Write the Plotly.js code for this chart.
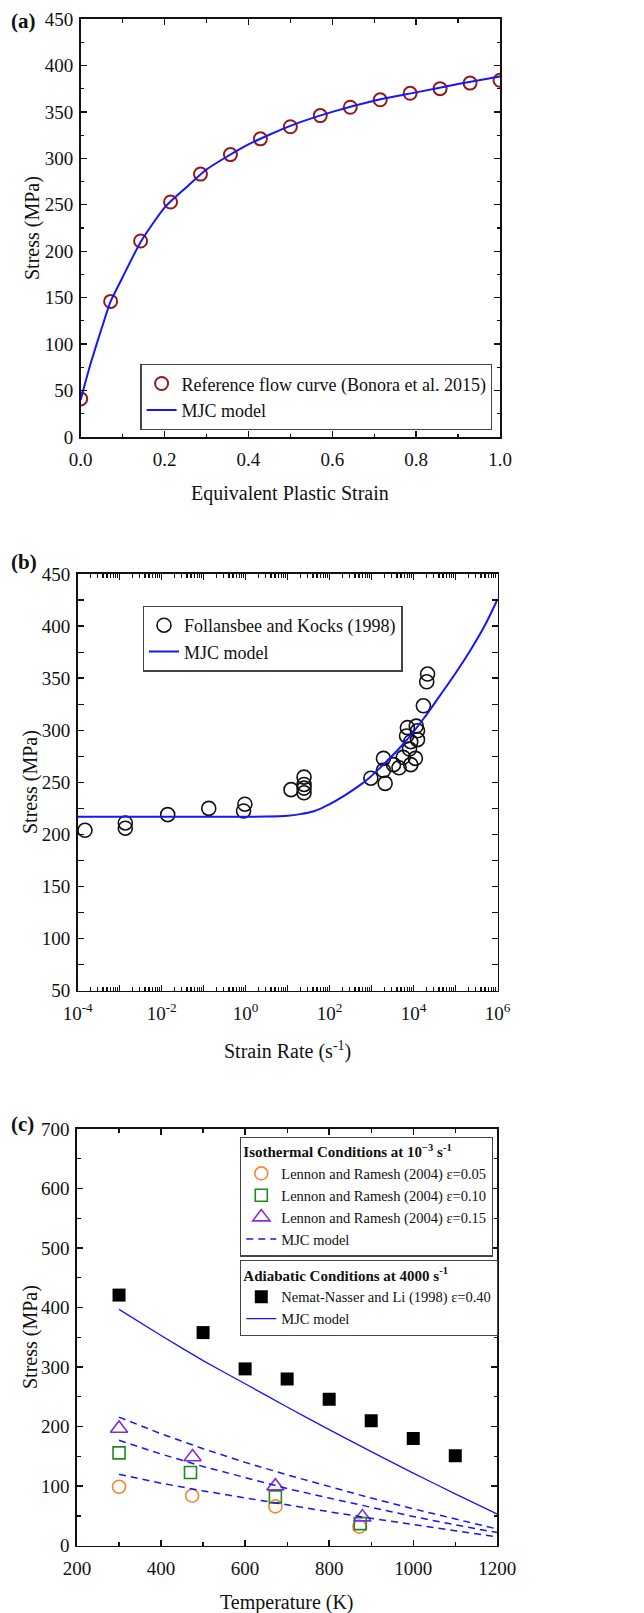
<!DOCTYPE html>
<html>
<head>
<meta charset="utf-8">
<script src="https://cdn.plot.ly/plotly-3.0.1.min.js"></script>
<style>
html, body { margin: 0; padding: 0; background: #fff; }
#fig { width: 644px; height: 1613px; }
</style>
</head>
<body>
<div id="fig"></div>
<script>
// ---- (a) flow curve vs equivalent plastic strain ----
const strainRef = [0, 0.0714, 0.1429, 0.2143, 0.2857, 0.3571, 0.4286, 0.5, 0.5714, 0.6429, 0.7143, 0.7857, 0.8571, 0.9286, 1.0];
const stressRef = [41, 146, 211, 253, 283, 304, 321, 334, 346, 355, 363, 370, 375, 381, 384];
const strainMJC = [0, 0.01, 0.025, 0.05, 0.0714, 0.1, 0.143, 0.2, 0.25, 0.3, 0.4, 0.5, 0.6, 0.7, 0.8, 0.9, 1.0];
const stressMJC = [40, 57, 81, 117, 146, 172, 210, 247, 268, 288, 315, 335, 350, 362, 371, 380, 388];

// ---- (b) stress vs strain rate ----
const rateFK = [1.49e-4, 1.36e-3, 1.36e-3, 0.0139, 0.132, 0.89, 0.955, 12, 24.5, 24.5, 24.5, 24.5,
  955, 1905, 1905, 2090, 3310, 4470, 5620, 6760, 7080, 7940, 8510, 8510, 10960, 11480, 12300, 12300, 16980, 20400, 21380];
const stressFK = [204, 206, 211, 219, 225, 222.5, 229, 243, 240, 244.5, 248, 255,
  254, 273, 261.5, 249, 267, 264, 274, 294.5, 302.5, 282, 289, 267, 273, 304, 291, 299.5, 323.5, 346.5, 354];
const rateMJC = [1e-4, 1e-3, 1e-2, 0.1, 1, 3, 10, 20, 40, 70, 100, 200, 400, 700, 2000, 6300, 17800, 40000, 1e5, 2.5e5, 5e5, 1e6];
const stressRateMJC = [217, 217, 217, 217, 217, 217.2, 218, 219.5, 222, 226, 229, 236, 244, 251, 268, 289, 312, 332, 355, 380, 401, 426];

// ---- (c) stress vs temperature ----
const tempNN = [300, 500, 600, 700, 800, 900, 1000, 1100];
const stressNN = [421, 358, 297, 280, 246, 210, 180, 151];
const tempLR05 = [300, 474, 672, 872];
const stressLR05 = [99, 84, 66, 32];
const tempLR10 = [300, 470, 672, 874];
const stressLR10 = [156, 123, 82, 37];
const tempLR15 = [300, 475, 672, 879];
const stressLR15 = [197, 149, 100, 48];
const tempModel = [300, 400, 500, 600, 700, 800, 900, 1000, 1100, 1200];
const stressAdiabatic = [397, 353, 311, 272, 233, 195, 158, 122, 87, 53];
const stressIso15 = [216, 188, 163, 140, 119, 99, 80, 62, 45, 28];
const stressIso10 = [177, 154, 133, 114, 96, 80, 64, 49, 35, 22];
const stressIso05 = [120, 105, 92, 80, 68, 57, 46, 35, 25, 15];

// strain-rate axis: labelled every second decade, ticked every decade
const rateLabelVals = [1e-4, 1e-2, 1, 1e2, 1e4, 1e6];
const rateLabelText = ['10<sup>-4</sup>', '10<sup>-2</sup>', '10<sup>0</sup>', '10<sup>2</sup>', '10<sup>4</sup>', '10<sup>6</sup>'];
const rateOddDecades = [1e-3, 1e-1, 1e1, 1e3, 1e5];

const W = 644, H = 1613;
const fx = x => x / W;
const fy = y => 1 - y / H;
const FONT = '"Liberation Serif", "Times New Roman", serif';
const INK = '#111';
const BLUE = '#1515ff';

const minorRate = [];
for (let e = -4; e < 6; e++) for (let d = 2; d <= 9; d++) minorRate.push(d * Math.pow(10, e));

function ax(extra, minorExtra, letter) {
  return Object.assign({
    showline: true, linecolor: INK, linewidth: 1.6, mirror: 'allticks',
    ticks: 'inside', ticklen: 6, tickwidth: 1.4, tickcolor: INK,
    showgrid: false, zeroline: false, fixedrange: true, automargin: false,
    ticklabelstandoff: letter === 'x' ? 5 : 2,
    tickfont: { family: FONT, size: 19, color: INK },
    minor: Object.assign({ ticks: 'inside', ticklen: 3.5, tickwidth: 1.2, tickcolor: INK, showgrid: false }, minorExtra)
  }, extra);
}

const traces = [
  { x: strainRef, y: stressRef, mode: 'markers', name: 'Reference flow curve (Bonora et al. 2015)',
    xaxis: 'x', yaxis: 'y', legend: 'legend',
    marker: { symbol: 'circle-open', size: 13, color: '#921c1c', line: { width: 2 } } },
  { x: strainMJC, y: stressMJC, mode: 'lines', name: 'MJC model', xaxis: 'x', yaxis: 'y', legend: 'legend',
    line: { color: BLUE, width: 2, shape: 'spline', smoothing: 0.6 } },

  { x: rateFK, y: stressFK, mode: 'markers', name: 'Follansbee and Kocks (1998)',
    xaxis: 'x2', yaxis: 'y2', legend: 'legend2',
    marker: { symbol: 'circle-open', size: 14, color: INK, line: { width: 1.6 } } },
  { x: rateMJC, y: stressRateMJC, mode: 'lines', name: 'MJC model', xaxis: 'x2', yaxis: 'y2', legend: 'legend2',
    line: { color: BLUE, width: 2, shape: 'spline', smoothing: 0.8 } },
  // carries the unlabelled odd-decade ticks of the strain-rate axis
  { x: [], y: [], mode: 'lines', xaxis: 'x4', yaxis: 'y2', showlegend: false, hoverinfo: 'skip' },

  { x: tempLR05, y: stressLR05, mode: 'markers', name: 'Lennon and Ramesh (2004) ε=0.05',
    xaxis: 'x3', yaxis: 'y3', legend: 'legend3',
    marker: { symbol: 'circle-open', size: 13, color: '#f7862f', line: { width: 1.6 } } },
  { x: tempLR10, y: stressLR10, mode: 'markers', name: 'Lennon and Ramesh (2004) ε=0.10',
    xaxis: 'x3', yaxis: 'y3', legend: 'legend3',
    marker: { symbol: 'square-open', size: 12, color: '#1f8a1f', line: { width: 1.6 } } },
  { x: tempLR15, y: stressLR15, mode: 'markers', name: 'Lennon and Ramesh (2004) ε=0.15',
    xaxis: 'x3', yaxis: 'y3', legend: 'legend3',
    marker: { symbol: 'triangle-up-open', size: 15, color: '#7f2ee0', line: { width: 1.6 } } },
  { x: tempModel, y: stressIso15, mode: 'lines', name: 'MJC model', xaxis: 'x3', yaxis: 'y3', legend: 'legend3',
    line: { color: BLUE, width: 1.5, dash: '7px,5px' } },
  { x: tempModel, y: stressIso10, mode: 'lines', showlegend: false, xaxis: 'x3', yaxis: 'y3',
    line: { color: BLUE, width: 1.5, dash: '7px,5px' } },
  { x: tempModel, y: stressIso05, mode: 'lines', showlegend: false, xaxis: 'x3', yaxis: 'y3',
    line: { color: BLUE, width: 1.5, dash: '7px,5px' } },

  { x: tempNN, y: stressNN, mode: 'markers', name: 'Nemat-Nasser and Li (1998) ε=0.40',
    xaxis: 'x3', yaxis: 'y3', legend: 'legend4',
    marker: { symbol: 'square', size: 13, color: '#000' } },
  { x: tempModel, y: stressAdiabatic, mode: 'lines', name: 'MJC model', xaxis: 'x3', yaxis: 'y3', legend: 'legend4',
    line: { color: BLUE, width: 1.3, shape: 'spline', smoothing: 0.5 } }
];

function legendBox(x, y, size, title) {
  const l = {
    x: fx(x), y: fy(y), xanchor: 'left', yanchor: 'top',
    bgcolor: '#fff', bordercolor: '#444', borderwidth: 1.3,
    font: { family: FONT, size: size, color: INK }, tracegroupgap: 0
  };
  if (title) l.title = { text: title, font: { family: FONT, size: size + 0.5, color: INK } };
  return l;
}

function label(text, x, y, size, angle) {
  return { text: text, xref: 'paper', yref: 'paper', x: fx(x), y: fy(y),
    xanchor: 'center', yanchor: 'middle', showarrow: false, textangle: angle || 0,
    font: { family: FONT, size: size, color: INK } };
}

const rateDomain = [fx(77.7), fx(497.7)];

const layout = {
  width: W, height: H, margin: { l: 0, r: 0, t: 0, b: 0 },
  paper_bgcolor: '#fff', plot_bgcolor: '#fff', showlegend: true,
  font: { family: FONT, color: INK },

  xaxis: ax({ domain: [fx(80.7), fx(500)], anchor: 'y', range: [0, 1], dtick: 0.2, tick0: 0, tickformat: '.1f' }, { dtick: 0.1 }, 'x'),
  yaxis: ax({ domain: [fy(437), fy(19)], anchor: 'x', range: [0, 450], dtick: 50, tick0: 0 }, { dtick: 25 }, 'y'),

  xaxis2: ax({ domain: rateDomain, anchor: 'y2', type: 'log', range: [-4, 6],
    tickmode: 'array', tickvals: rateLabelVals, ticktext: rateLabelText },
    { tickmode: 'array', tickvals: minorRate }, 'x'),
  xaxis4: { domain: rateDomain, anchor: 'y2', overlaying: 'x2', type: 'log', range: [-4, 6],
    tickmode: 'array', tickvals: rateOddDecades, showticklabels: false,
    showline: true, linecolor: INK, linewidth: 1.6, mirror: 'allticks',
    ticks: 'inside', ticklen: 6, tickwidth: 1.4, tickcolor: INK,
    showgrid: false, zeroline: false, fixedrange: true, automargin: false },
  yaxis2: ax({ domain: [fy(990.7), fy(574)], anchor: 'x2', range: [50, 450], dtick: 50, tick0: 0 }, { dtick: 25 }, 'y'),

  xaxis3: ax({ domain: [fx(77), fx(497.3)], anchor: 'y3', range: [200, 1200], dtick: 200, tick0: 0 }, { dtick: 100 }, 'x'),
  yaxis3: ax({ domain: [fy(1545.7), fy(1129)], anchor: 'x3', range: [0, 700], dtick: 100, tick0: 0 }, { dtick: 50 }, 'y'),

  legend: legendBox(140.3, 364, 18),
  legend2: legendBox(142.7, 605.7, 18),
  legend3: legendBox(240, 1136.7, 14.5, '<b>Isothermal Conditions at 10<sup>−3</sup> s<sup>-1</sup></b>'),
  legend4: legendBox(240, 1260, 14.5, '<b>Adiabatic Conditions at 4000 s<sup>-1</sup></b>'),

  annotations: [
    label('<b>(a)</b>', 23.5, 21, 21),
    label('<b>(b)</b>', 23.5, 562, 21),
    label('<b>(c)</b>', 22, 1124, 21),
    label('Equivalent Plastic Strain', 290.4, 494, 20),
    label('Strain Rate (s<sup>-1</sup>)', 287.7, 1050, 20),
    label('Temperature (K)', 287.2, 1602, 20),
    label('Stress (MPa)', 33, 228, 20, -90),
    label('Stress (MPa)', 30, 782, 20, -90),
    label('Stress (MPa)', 30, 1337, 20, -90)
  ]
};

Plotly.newPlot('fig', traces, layout, { displayModeBar: false, staticPlot: true });
</script>
</body>
</html>
